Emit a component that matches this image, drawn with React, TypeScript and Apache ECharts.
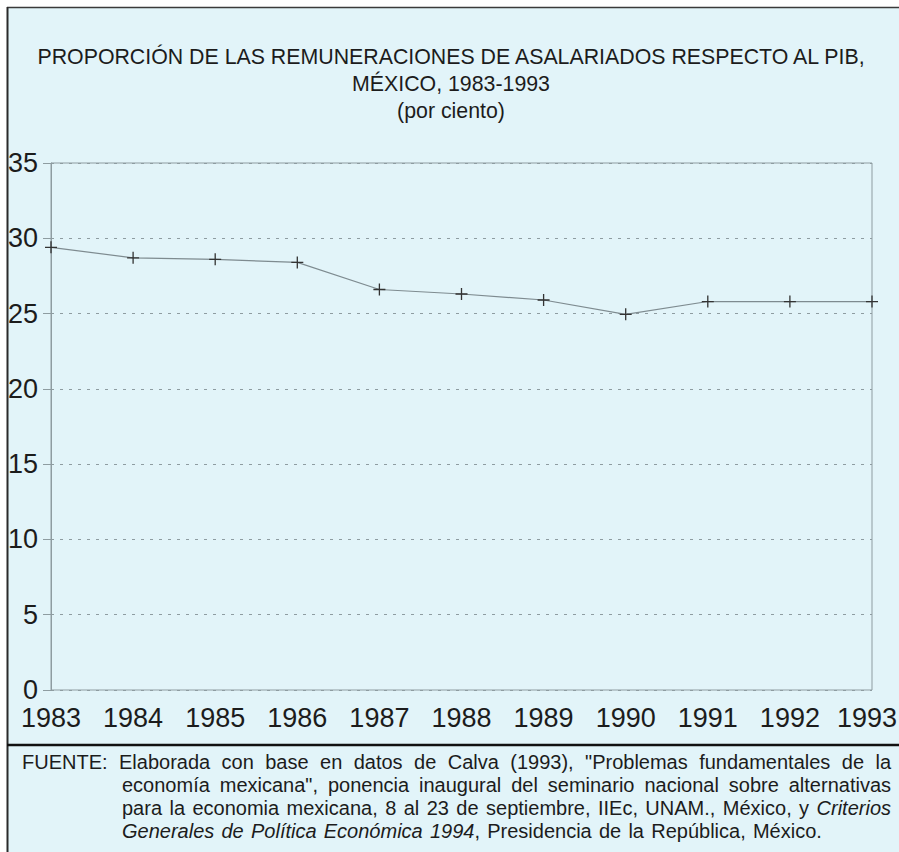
import React, { useEffect, useRef } from 'react';
import * as echarts from 'echarts';

const titleLines = [
  'PROPORCIÓN DE LAS REMUNERACIONES DE ASALARIADOS RESPECTO AL PIB,',
  'MÉXICO, 1983-1993',
  '(por ciento)',
];

const years = ['1983', '1984', '1985', '1986', '1987', '1988', '1989', '1990', '1991', '1992', '1993'];
const shares = [29.4, 28.7, 28.6, 28.4, 26.6, 26.3, 25.9, 24.95, 25.8, 25.8, 25.8];

const yMin = 0;
const yMax = 35;
const yStep = 5;

// '*' toggles italics
const footerLines = [
  'FUENTE: Elaborada con base en datos de Calva (1993), "Problemas fundamentales de la',
  'economía mexicana", ponencia inaugural del seminario nacional sobre alternativas',
  'para la economia mexicana, 8 al 23 de septiembre, IIEc, UNAM., México, y *Criterios*',
  '*Generales de Política Económica 1994*, Presidencia de la República, México.',
];

const FONT = '"Liberation Sans", Arial, Helvetica, sans-serif';
const TEXT = '#1c1c1c';
const BG = '#e2f4f9';
const GRIDC = '#8e9ca1';

type Piece = { text: string; italic: boolean };

function parseWords(line: string, state: { italic: boolean }): Piece[][] {
  const words: Piece[][] = [];
  line.split(' ').forEach((w) => {
    const pieces: Piece[] = [];
    let cur = '';
    for (const ch of w) {
      if (ch === '*') {
        if (cur) pieces.push({ text: cur, italic: state.italic });
        cur = '';
        state.italic = !state.italic;
      } else cur += ch;
    }
    if (cur) pieces.push({ text: cur, italic: state.italic });
    if (pieces.length) words.push(pieces);
  });
  return words;
}

export default function App() {
  const ref = useRef<HTMLDivElement>(null);
  useEffect(() => {
    if (!ref.current) return;
    const chart = echarts.init(ref.current, null, { renderer: 'svg' });
    const canvas = document.createElement('canvas');
    const ctx = canvas.getContext('2d')!;
    const fsz = 20;
    const meas = (t: string, it: boolean) => {
      ctx.font = `${it ? 'italic ' : ''}${fsz}px ${FONT}`;
      return ctx.measureText(t).width;
    };

    const graphics: any[] = [];
    graphics.push({ type: 'rect', z: 100, shape: { x: 0, y: 0, width: 7, height: 852 }, style: { fill: '#ffffff' } });
    graphics.push({ type: 'rect', z: 100, shape: { x: 0, y: 0, width: 899, height: 7 }, style: { fill: '#ffffff' } });
    graphics.push({ type: 'line', z: 101, shape: { x1: 7, y1: 7.5, x2: 899, y2: 7.5 }, style: { stroke: '#3a3a3a', lineWidth: 1.5 } });
    graphics.push({ type: 'line', z: 101, shape: { x1: 7.5, y1: 7, x2: 7.5, y2: 852 }, style: { stroke: '#2a2a2a', lineWidth: 2 } });
    graphics.push({ type: 'line', z: 101, shape: { x1: 7, y1: 745, x2: 899, y2: 745 }, style: { stroke: '#111111', lineWidth: 2.5 } });

    const titleY = [56, 83, 110];
    titleLines.forEach((t, i) => {
      graphics.push({
        type: 'text', z: 101, x: 451, y: titleY[i], scaleX: 0.97,
        style: { text: t, fill: TEXT, fontSize: 22, fontFamily: FONT, textAlign: 'center', textVerticalAlign: 'middle' },
      });
    });

    const state = { italic: false };
    const fy = [762, 785, 808, 831];
    footerLines.forEach((line, li) => {
      const words = parseWords(line, state);
      const x0 = li === 0 ? 22 : 122;
      const x1 = 891;
      const widths = words.map((w) => w.reduce((s, p) => s + meas(p.text, p.italic), 0));
      const total = widths.reduce((a, b) => a + b, 0);
      const justify = li < footerLines.length - 1;
      const gap = justify ? (x1 - x0 - total) / (words.length - 1) : meas(' ', false) * 1.3;
      let x = x0;
      words.forEach((w, wi) => {
        let px = x;
        w.forEach((p) => {
          graphics.push({
            type: 'text', z: 101, x: px, y: fy[li],
            style: {
              text: p.text, fill: TEXT, fontSize: fsz, fontFamily: FONT,
              fontStyle: p.italic ? 'italic' : 'normal',
              textAlign: 'left', textVerticalAlign: 'middle',
            },
          });
          px += meas(p.text, p.italic);
        });
        x += widths[wi] + gap;
      });
    });

    const lastIdx = years.length - 1;

    chart.setOption({
      animation: false,
      backgroundColor: BG,
      grid: {
        left: 51, right: 27, top: 163, bottom: 162,
        show: true, borderColor: GRIDC, borderWidth: 1,
        containLabel: false, outerBoundsMode: 'none',
      },
      xAxis: {
        type: 'category',
        data: years,
        boundaryGap: false,
        axisLine: { show: false },
        axisTick: { show: false },
        splitLine: { show: false },
        axisLabel: {
          interval: 0, fontSize: 27, fontFamily: FONT, color: TEXT, margin: 14,
          formatter: (v: string, i: number) => (i === lastIdx ? `{e|${v}}` : v),
          rich: { e: { fontSize: 27, fontFamily: FONT, color: TEXT, padding: [0, 10, 0, 0] } },
        },
      },
      yAxis: {
        type: 'value',
        min: yMin, max: yMax, interval: yStep,
        axisLine: { show: true, lineStyle: { color: GRIDC, width: 1 } },
        axisTick: { show: true, length: 8, lineStyle: { color: GRIDC, width: 1 } },
        axisLabel: { fontSize: 27, fontFamily: FONT, color: TEXT, margin: 13 },
        splitLine: { show: true, lineStyle: { color: GRIDC, width: 1, type: [3, 6] } },
      },
      series: [
        {
          type: 'line',
          data: shares,
          symbol: 'path://M5,0 L5,10 M0,5 L10,5',
          symbolSize: 12,
          showAllSymbol: true,
          lineStyle: { color: '#7e8b90', width: 1.2 },
          itemStyle: { color: '#333333', borderColor: '#333333', borderWidth: 1.3 },
          clip: false,
        },
      ],
      graphic: graphics,
    });
    return () => chart.dispose();
  }, []);
  return <div ref={ref} style={{ position: 'fixed', left: 0, top: 0, width: 899, height: 852 }} />;
}
